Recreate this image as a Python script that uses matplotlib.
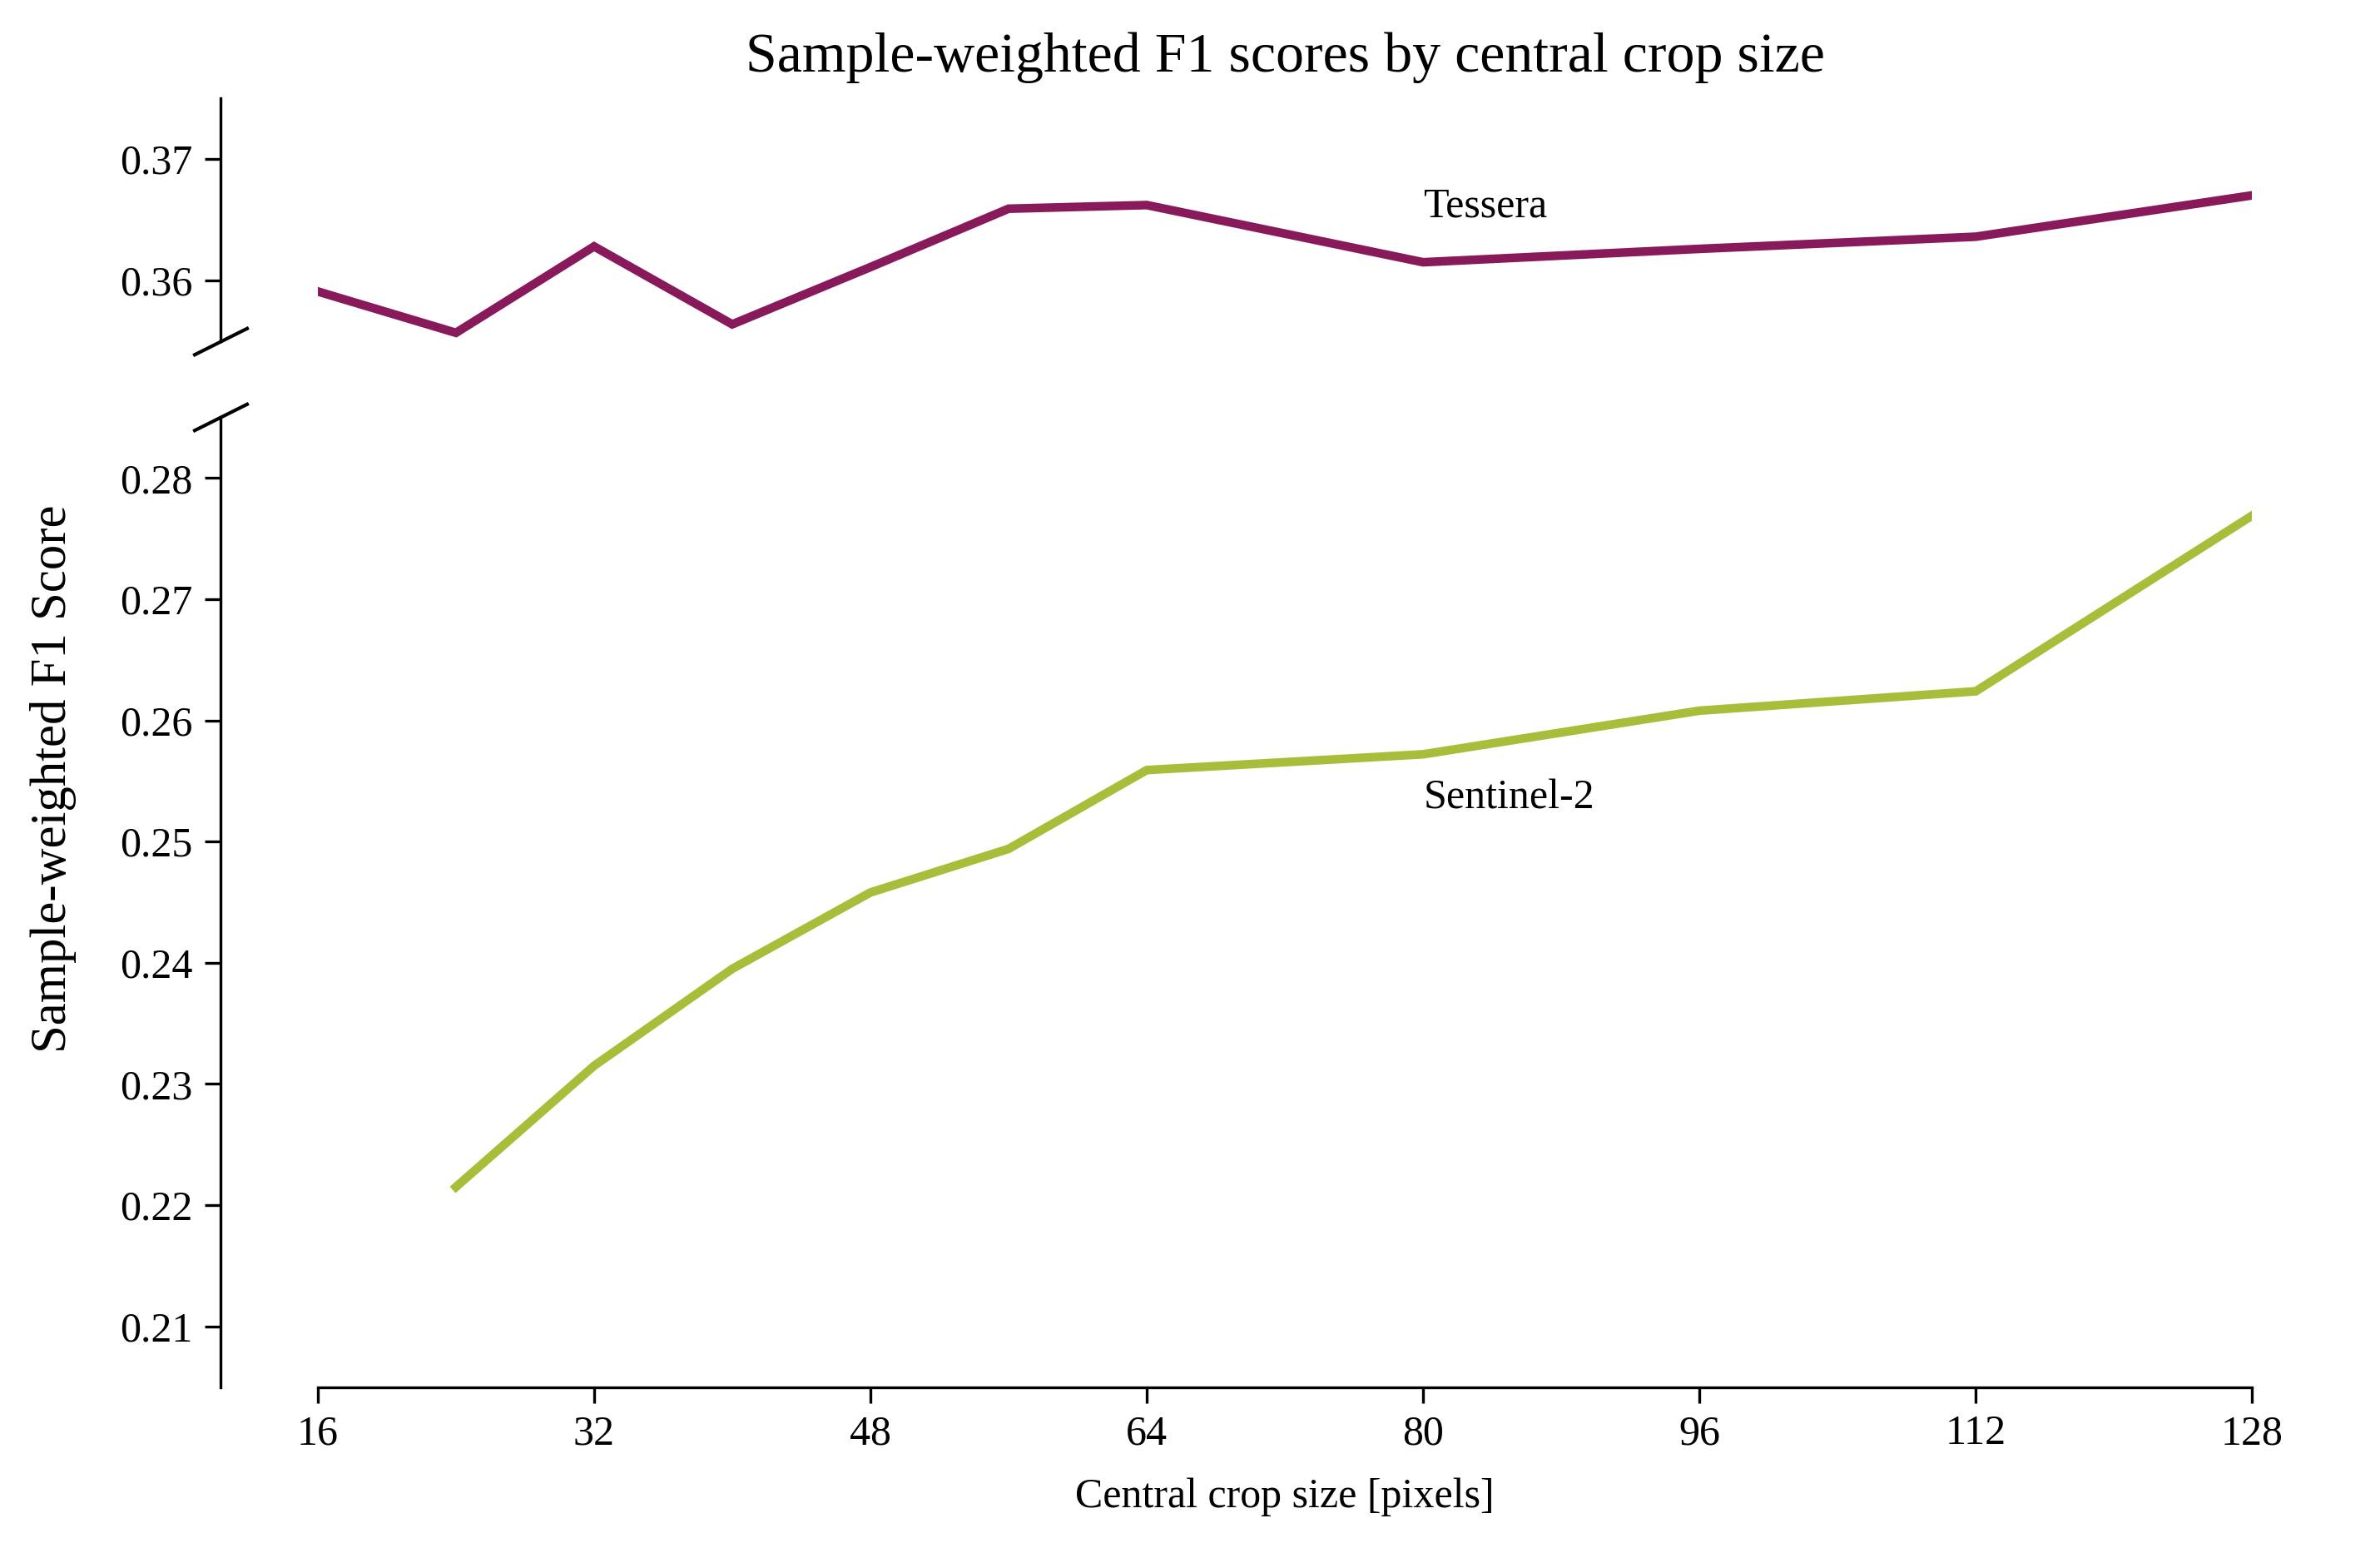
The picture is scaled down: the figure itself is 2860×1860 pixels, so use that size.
import numpy as np
import matplotlib
matplotlib.use("Agg")
import matplotlib.pyplot as plt

plt.rcParams['font.family'] = ['Liberation Serif', 'DejaVu Serif']

# crop sizes [pixels] and sample-weighted F1 scores
crop_tessera = [16, 24, 32, 40, 48, 56, 64, 80, 96, 112, 128]
f1_tessera = [0.3591, 0.3557, 0.3628, 0.3564, 0.3611, 0.3659, 0.3662,
              0.3615, 0.3626, 0.3636, 0.3670]

crop_s2 = [24, 32, 40, 48, 56, 64, 80, 96, 112, 128]
f1_s2 = [0.2215, 0.2315, 0.2395, 0.2458, 0.2494, 0.2559,
         0.2572, 0.2608, 0.2624, 0.2769]

xticks = [16, 32, 48, 64, 80, 96, 112, 128]
yticks_top = [0.36, 0.37]
yticks_bot = [0.21, 0.22, 0.23, 0.24, 0.25, 0.26, 0.27, 0.28]

c_tessera = '#881A5B'
c_s2 = '#A8BE3A'

fig = plt.figure(figsize=(2860 / 300, 1860 / 300), dpi=300)
left, right = 0.1335, 0.9463
ax_top = fig.add_axes([left, 0.7795, right - left, 0.9367 - 0.7795])
ax_bot = fig.add_axes([left, 0.1040, right - left, 0.7304 - 0.1040])

ax_top.plot(crop_tessera, f1_tessera, color=c_tessera, lw=2.5, solid_joinstyle='miter')
ax_bot.plot(crop_s2, f1_s2, color=c_s2, lw=2.5, solid_joinstyle='miter')

ax_top.set_ylim(0.355, 0.375)
ax_bot.set_ylim(0.205, 0.285)
for ax in (ax_top, ax_bot):
    ax.set_xlim(16, 128)
    ax.spines['top'].set_visible(False)
    ax.spines['right'].set_visible(False)
    ax.spines['left'].set_position(('outward', 28))
    ax.tick_params(labelsize=12, length=4.5, width=0.8)

ax_top.spines['bottom'].set_visible(False)
ax_top.set_xticks([])
ax_top.set_yticks(yticks_top)
ax_top.set_yticklabels([f'{v:.2f}' for v in yticks_top])

ax_bot.set_xticks(xticks)
ax_bot.set_yticks(yticks_bot)
ax_bot.set_yticklabels([f'{v:.2f}' for v in yticks_bot])
ax_bot.set_xlabel('Central crop size [pixels]', fontsize=12, labelpad=7)

# break marks on the offset left spine
d = 0.5
kw = dict(marker=[(-1, -d), (1, d)], markersize=16, linestyle='none',
          color='k', mec='k', mew=1, clip_on=False)
ax_top.plot([0], [0.355], transform=ax_top.get_yaxis_transform(which='tick1'), **kw)
ax_bot.plot([0], [0.285], transform=ax_bot.get_yaxis_transform(which='tick1'), **kw)

ax_top.text(80, 0.3661, 'Tessera', fontsize=12, ha='left', va='center')
ax_bot.text(80, 0.2536, 'Sentinel-2', fontsize=12, ha='left', va='center')

fig.text((left + right) / 2, 0.9625, 'Sample-weighted F1 scores by central crop size',
         fontsize=16.3, ha='center', va='center')
fig.text(0.0224, 0.497, 'Sample-weighted F1 Score', fontsize=14.6,
         rotation=90, ha='center', va='center')

fig.savefig('out.png', dpi=300)
